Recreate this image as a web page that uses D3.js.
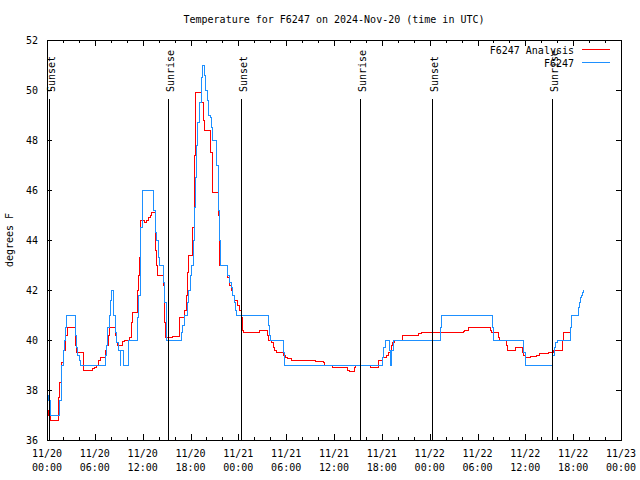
<!DOCTYPE html>
<html><head><meta charset="utf-8">
<script src="https://cdn.jsdelivr.net/npm/d3@7"></script>
<style>
body{margin:0;background:#fff}
svg{display:block}
text{font-family:"DejaVu Sans Mono",monospace;font-size:10px;fill:#000}
</style>
</head><body><svg id="c" width="640" height="480"></svg>
<script>
// ---- data (hours since 2024-11-20 00:00 UTC) ----
const obsHours = [0,0.19,0.38,1.63,1.76,1.88,2.04,2.17,2.30,2.47,3.55,3.68,3.85,4.05,4.23,7.36,7.49,7.65,7.78,7.99,8.15,8.32,8.53,8.74,8.91,9.19,9.28,9.57,10.20,11.33,11.45,11.67,11.79,11.95,13.33,13.55,13.76,13.96,14.17,14.59,14.80,14.93,15.02,16.81,16.97,17.19,17.62,17.75,17.94,18.15,18.35,18.50,18.63,18.75,18.94,19.15,19.32,19.48,19.78,19.91,20.07,20.28,20.48,20.61,20.79,21.32,21.45,21.54,21.66,21.74,22.70,22.92,23.12,23.24,23.46,23.62,23.83,27.81,27.89,28.01,29.64,29.77,42.06,42.19,42.40,42.94,43.11,43.24,43.44,49.39,49.51,55.86,55.98,59.83,59.96,63.39,63.60,63.81,64.01,65.61,65.73,66.65,66.77,66.90,67.07,67.20,67.32];
const obsTemps = [37.8,37.6,37.0,37.6,38.3,39.0,39.6,40.0,40.5,41.0,40.2,39.7,39.4,39.2,39.0,39.4,39.8,40.5,41.0,41.6,42.0,41.0,40.3,39.9,39.6,39.0,39.6,39.0,40.0,40.9,41.8,42.9,44.5,46.0,45.2,44.3,44.0,43.3,43.0,42.3,41.5,40.7,40.0,40.3,40.6,41.0,41.5,42.0,42.6,43.0,44.0,45.3,46.5,47.8,48.7,49.5,50.5,51.0,50.6,50.0,49.6,49.0,48.9,48.5,48.0,47.0,45.8,45.2,44.0,43.0,42.6,42.3,42.1,41.8,41.5,41.2,41.0,40.6,40.2,40.0,39.5,39.0,39.3,39.7,40.0,39.6,39.0,39.6,40.0,40.5,41.0,40.5,40.0,39.5,39.0,39.4,39.7,39.9,40.0,40.5,41.0,41.3,41.5,41.7,41.8,41.9,42.0];

const anaHours = [0,0.25,0.44,1.44,1.63,1.76,1.88,2.01,2.26,2.38,2.51,3.60,3.73,4.52,4.64,5.71,5.90,6.15,6.40,6.52,6.65,7.36,7.49,7.69,7.90,8.53,8.66,8.82,9.50,9.66,10.41,10.62,10.75,11.33,11.45,11.58,11.67,11.75,12.29,12.51,12.71,12.92,13.05,13.55,13.64,13.76,13.84,14.59,14.68,14.80,14.89,15.68,16.56,16.60,17.31,17.44,17.65,17.72,18.31,18.44,18.53,18.60,18.65,19.44,19.57,19.69,19.78,20.57,20.70,21.45,21.54,21.66,22.62,22.70,22.92,23.12,23.33,23.55,23.92,24.12,24.34,24.42,24.55,24.62,26.63,27.69,27.76,28.19,28.39,28.51,28.73,29.64,29.89,30.19,30.61,33.74,34.66,34.79,35.75,37.72,37.92,38.55,38.64,40.52,41.56,42.06,42.61,42.81,43.24,43.37,43.53,44.62,46.66,47.00,52.22,52.43,52.85,55.66,55.78,56.61,56.74,57.67,57.74,58.71,59.62,59.75,59.96,60.71,61.43,61.72,62.88,63.51,64.64,64.76,65.61];
const anaTemps = [37.2,37.0,36.8,37.7,38.3,38.7,39.1,39.6,39.9,40.2,40.5,39.8,39.5,39.0,38.8,38.85,38.9,39.0,39.1,39.2,39.3,39.6,39.8,40.2,40.5,40.2,39.9,39.8,39.95,40.0,40.1,40.7,41.1,42.0,42.6,43.3,44.3,44.8,44.7,44.8,44.9,45.0,45.1,44.6,43.6,43.0,42.6,42.2,41.4,40.7,40.1,40.15,40.6,40.9,41.2,41.8,42.7,43.4,44.5,46.2,47.4,48.7,49.9,49.5,48.9,48.8,48.4,47.5,45.9,45.3,45.0,43.0,42.8,42.5,42.2,42.0,41.8,41.6,41.4,41.2,41.1,40.9,40.4,40.3,40.4,40.2,40.0,39.9,39.7,39.6,39.5,39.4,39.3,39.25,39.2,39.15,39.1,39.0,38.9,38.8,38.75,38.9,39.0,38.9,39.2,39.3,39.4,39.5,39.8,39.9,40.0,40.2,40.25,40.3,40.35,40.4,40.5,40.4,40.3,40.1,40.0,39.8,39.6,39.7,39.5,39.4,39.3,39.35,39.4,39.45,39.5,39.6,40.0,40.3,40.3];

const eventLabels = ["Sunset","Sunrise","Sunset","Sunrise","Sunset","Sunrise"];
const eventHours = [0.29,15.22,24.35,39.31,48.32,63.37];

const xTickHours = [0,6,12,18,24,30,36,42,48,54,60,66,72];
const xTickDates = ["11/20","11/20","11/20","11/20","11/21","11/21","11/21","11/21","11/22","11/22","11/22","11/22","11/23"];
const xTickTimes = ["00:00","06:00","12:00","18:00","00:00","06:00","12:00","18:00","00:00","06:00","12:00","18:00","00:00"];
const xMinorHours = [2,4,8,10,14,16,20,22,26,28,32,34,38,40,44,46,50,52,56,58,62,64,68,70];
const yTicks = [36,38,40,42,44,46,48,50,52];

const seriesNames = ["F6247 Analysis","F6247"];
const titleText = "Temperature for F6247 on 2024-Nov-20 (time in UTC)";
const yLabelText = "degrees F";

// ---- drawing ----
const L=47,R=621,T=40,B=440;
const svg=d3.select("#c");
svg.append("rect").attr("width",640).attr("height",480).attr("fill","#fff");

const x=d3.scaleLinear().domain([0,72]).range([L,R]);
const y=d3.scaleLinear().domain([36,52]).range([B,T]);

function styleAxis(g){
  g.select(".domain").remove();
  g.selectAll("line").attr("stroke","#000").attr("shape-rendering","crispEdges");
  g.attr("font-family",null).attr("font-size",null);
}
svg.append("g").attr("transform",`translate(0,${B})`)
  .call(d3.axisBottom(x).tickValues(xTickHours).tickSize(-6).tickFormat("")).call(styleAxis);
svg.append("g").attr("transform",`translate(0,${B})`)
  .call(d3.axisBottom(x).tickValues(xMinorHours).tickSize(-3).tickFormat("")).call(styleAxis);
svg.append("g").attr("transform",`translate(0,${T})`)
  .call(d3.axisTop(x).tickValues(xTickHours).tickSize(-6).tickFormat("")).call(styleAxis);
svg.append("g").attr("transform",`translate(0,${T})`)
  .call(d3.axisTop(x).tickValues(xMinorHours).tickSize(-3).tickFormat("")).call(styleAxis);
svg.append("g").attr("transform",`translate(${L},0)`)
  .call(d3.axisLeft(y).tickValues(yTicks).tickSize(-5).tickPadding(9).tickFormat(d3.format("d"))).call(styleAxis);
svg.append("g").attr("transform",`translate(${R},0)`)
  .call(d3.axisRight(y).tickValues(yTicks).tickSize(-5).tickFormat("")).call(styleAxis);

// x tick labels (two lines)
const xl=svg.append("g");
xTickHours.forEach((h,i)=>{
  const t=xl.append("text").attr("text-anchor","middle");
  t.append("tspan").attr("x",x(h)).attr("y",457).text(xTickDates[i]);
  t.append("tspan").attr("x",x(h)).attr("y",471).text(xTickTimes[i]);
});

// series
const obs=obsHours.map((h,i)=>({h,v:obsTemps[i]}));
const ana=anaHours.map((h,i)=>({h,v:anaTemps[i]}));
const line=d3.line().x(d=>x(d.h)).y(d=>y(d.v)).curve(d3.curveStepAfter);
const colors=["#ff0000","#1e90ff"];
svg.append("path").datum(ana).attr("d",line).attr("fill","none").attr("stroke",colors[0]).attr("stroke-width",1).attr("shape-rendering","crispEdges");
svg.append("path").datum(obs).attr("d",line).attr("fill","none").attr("stroke",colors[1]).attr("stroke-width",1).attr("shape-rendering","crispEdges");

// sunrise/sunset markers
const ev=svg.append("g");
eventHours.forEach((h,i)=>{
  ev.append("line").attr("x1",x(h)).attr("x2",x(h)).attr("y1",99).attr("y2",B)
    .attr("stroke","#000").attr("stroke-width",1).attr("shape-rendering","crispEdges");
  ev.append("text").attr("transform",`translate(${x(h)+6},92) rotate(-90)`)
    .attr("text-anchor","start").text(eventLabels[i]);
});

// border
svg.append("rect").attr("x",L+0.5).attr("y",T+0.5).attr("width",R-L).attr("height",B-T)
  .attr("fill","none").attr("stroke","#000").attr("stroke-width",1);

// title & labels
svg.append("text").attr("x",(L+R)/2).attr("y",23).attr("text-anchor","middle").text(titleText);
svg.append("text").attr("transform","translate(13,240) rotate(-90)").attr("text-anchor","middle").text(yLabelText);

// legend
const leg=svg.append("g");
seriesNames.forEach((n,i)=>{
  const ly=49.5+i*13;
  leg.append("text").attr("x",574).attr("y",ly+4).attr("text-anchor","end").text(n);
  leg.append("line").attr("x1",582).attr("x2",610).attr("y1",ly).attr("y2",ly)
    .attr("stroke",colors[i]).attr("stroke-width",1).attr("shape-rendering","crispEdges");
});
</script>
</body></html>
